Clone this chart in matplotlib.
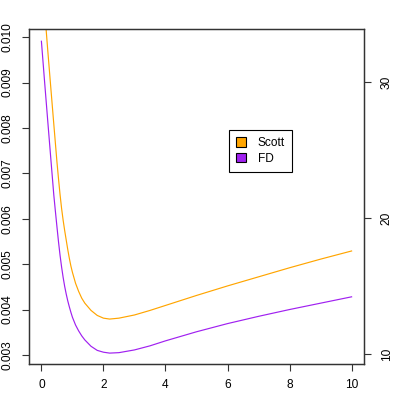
import numpy as np
import matplotlib
matplotlib.use("Agg")
import matplotlib.pyplot as plt
from matplotlib.patches import Patch

plt.rcParams['font.family'] = ['Liberation Sans', 'DejaVu Sans']

# curve points
x_pts = [0, 0.1, 0.2, 0.3, 0.4,
         0.45, 0.5, 0.55, 0.6, 0.65, 0.7, 0.75, 0.8, 0.85, 0.9, 0.95, 1.0,
         1.1, 1.2, 1.3, 1.4, 1.6, 1.8, 2.0, 2.2,
         2.5, 3, 3.5, 4, 5, 6, 7, 8, 9, 10]
fd = [0.00991, 0.00904, 0.00819, 0.00735, 0.00652,
      0.00617, 0.00583, 0.00550, 0.00520, 0.00494, 0.00471, 0.00451, 0.00434,
      0.00419, 0.00406, 0.00394, 0.00383,
      0.00366, 0.00353, 0.00342, 0.00333, 0.00319, 0.00310, 0.00306, 0.00304,
      0.00305, 0.00311, 0.00320, 0.00331, 0.00351, 0.00369, 0.00385, 0.00400,
      0.00414, 0.00428]
scott = [0.01152, 0.01062, 0.00975, 0.00891, 0.00808,
         0.00767, 0.00726, 0.00689, 0.00654, 0.00623, 0.00597, 0.00574, 0.00553,
         0.00532, 0.00513, 0.00496, 0.00482,
         0.00458, 0.00440, 0.00425, 0.00414, 0.00398, 0.00387, 0.00381, 0.00379,
         0.00381, 0.00388, 0.00398, 0.00409, 0.00431, 0.00452, 0.00472, 0.00492,
         0.00511, 0.00529]

left_ticks = [0.003, 0.004, 0.005, 0.006, 0.007, 0.008, 0.009, 0.010]
right_ticks = [10, 20, 30]
x_ticks = [0, 2, 4, 6, 8, 10]
names = ["Scott", "FD"]
cols = ["#FFA500", "#A020F0"]

fig = plt.figure(figsize=(4.09, 4.09), dpi=100)
ax = fig.add_axes([29/409, 45/409, 335/409, 335/409])
ax.plot(x_pts, scott, color=cols[0], lw=0.85)
ax.plot(x_pts, fd, color=cols[1], lw=0.85)
ax.set_xlim(-0.4, 10.4)
ax.set_ylim(0.0028, 0.01018)

fs = 8.6
ax.set_xticks(x_ticks)
ax.set_xticklabels([str(t) for t in x_ticks], fontsize=fs)
ax.set_yticks(left_ticks)
ax.set_yticklabels(["%.3f" % t for t in left_ticks], fontsize=fs,
                   rotation=90, va='center')
ax.tick_params(length=5, width=0.8, pad=6, color='#333333')
for s in ax.spines.values():
    s.set_linewidth(0.9)
    s.set_color('#333333')

ax2 = ax.twinx()
ax2.set_ylim(9.26, 33.9)
ax2.set_yticks(right_ticks)
ax2.set_yticklabels([str(t) for t in right_ticks], fontsize=fs,
                    rotation=90, va='center')
ax2.tick_params(length=5, width=0.8, pad=7, color='#333333')
for s in ax2.spines.values():
    s.set_linewidth(0.9)
    s.set_color('#333333')

handles = [Patch(facecolor=c, edgecolor='black', linewidth=0.8) for c in cols]
leg = ax.legend(handles, names, loc='upper left',
                bbox_to_anchor=((229 - 29) / 335, (364 - 130) / 335),
                fontsize=fs, frameon=True, fancybox=False, framealpha=1,
                handlelength=0.8, handleheight=0.8, handletextpad=1.0,
                borderpad=0.6, labelspacing=0.3, borderaxespad=0)
leg.get_frame().set_edgecolor('black')
leg.get_frame().set_linewidth(0.8)

fig.savefig("out.png", dpi=100)
